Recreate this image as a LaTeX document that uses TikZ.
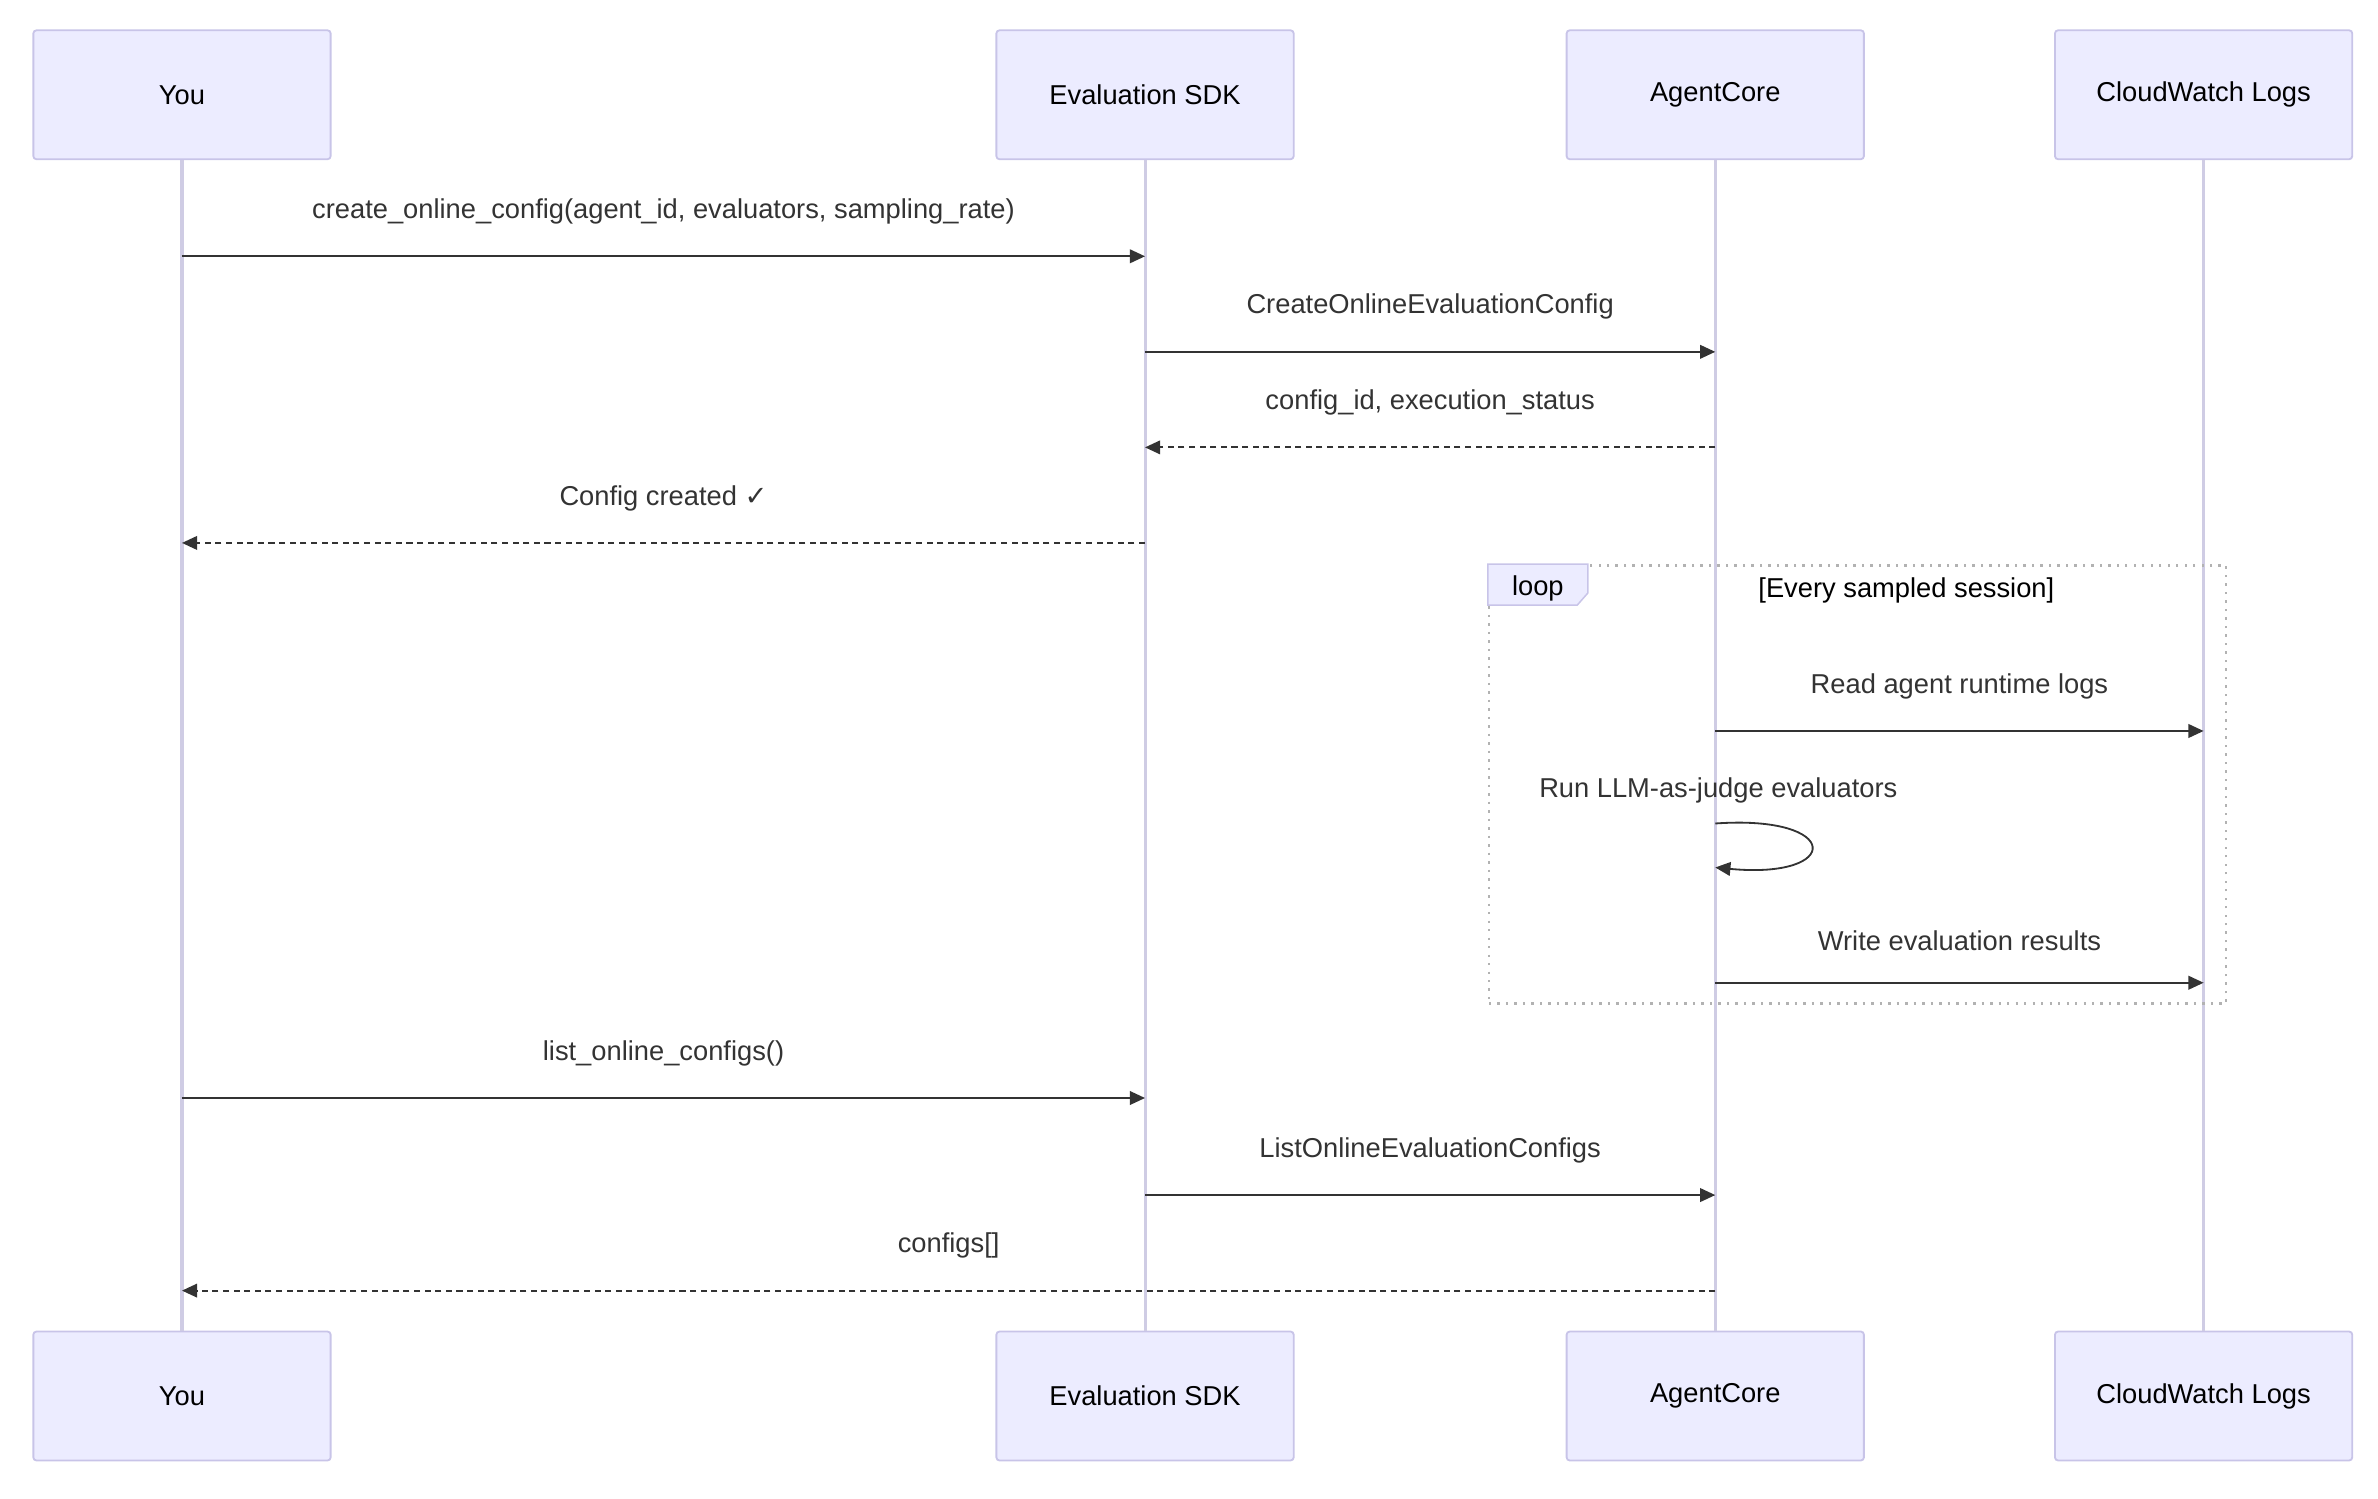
\documentclass[tikz,border=0pt]{standalone}
\usepackage{fontspec}
\setmainfont{Liberation Sans}
\newfontfamily\symfont{DejaVu Sans}
\usetikzlibrary{arrows.meta}
\definecolor{actfill}{HTML}{ECECFF}
\definecolor{actdraw}{HTML}{C8C4E8}
\definecolor{lifeline}{HTML}{CFCCE4}
\definecolor{msgcol}{HTML}{333333}
\begin{document}
\begin{tikzpicture}[x=0.5pt,y=-0.5pt,font=\fontsize{9}{11}\selectfont]
\tikzstyle{actor}=[rectangle, rounded corners=1pt, draw=actdraw, fill=actfill, line width=0.6pt, minimum width=98pt, minimum height=42.5pt]
\tikzstyle{life}=[draw=lifeline, line width=1pt]
\tikzstyle{msg}=[-{Triangle[length=5pt,width=4.5pt]}, draw=msgcol, line width=0.6pt]
\tikzstyle{reply}=[msg, dash pattern=on 2pt off 1.5pt]
\tikzstyle{lbl}=[text=msgcol]
\useasboundingbox (0,0) rectangle (1568,988);

  % actors
  \foreach \name/\x/\txt in {you/120/You, sdk/755/Evaluation SDK, core/1131/AgentCore, cw/1453/CloudWatch Logs}{
    \node[actor] (\name top) at (\x,62.5) {\txt};
    \node[actor] (\name bot) at (\x,920.5) {\txt};
    \path[life] (\name top.south) -- (\name bot.north);
  }

  % loop frame
  \node[draw=gray!60, dotted, line width=0.8pt, minimum width=243pt, minimum height=144.5pt, anchor=north west] (loop) at (981,372) {};
  \path[draw=actdraw, fill=actfill, line width=0.5pt] (981,372) -- (1047,372) -- (1047,391) -- (1040,399) -- (981,399) -- cycle;
  \node (looptag) at (1014,388) {loop};
  \node (loopcond) at (1257,389) {[Every sampled session]};

  % anchor points on lifelines
  \foreach \name/\x in {you/120, sdk/755, core/1131, cw/1453}{
    \foreach \y in {169,232,295,358,482,648,724,788,851}{
      \coordinate (\name\y) at (\x,\y);
    }
  }

  \draw[msg] (you169) -- node[lbl, above=7pt] {create\_online\_config(agent\_id, evaluators, sampling\_rate)} (sdk169);
  \draw[msg] (sdk232) -- node[lbl, above=7pt] {CreateOnlineEvaluationConfig} (core232);
  \draw[reply] (core295) -- node[lbl, above=7pt] {config\_id, execution\_status} (sdk295);
  \draw[reply] (sdk358) -- node[lbl, above=7pt] {Config created {\symfont ✓}} (you358);
  \draw[msg] (core482) -- node[lbl, above=7pt] {Read agent runtime logs} (cw482);
  \coordinate (selfa) at (1131,543);
  \coordinate (selfb) at (1131,572);
  \node[lbl] (selflbl) at (1133,521) {Run LLM-as-judge evaluators};
  \draw[msg] (selfa) .. controls (1215,537) and (1215,580) .. (selfb);
  \draw[msg] (core648) -- node[lbl, above=7pt] {Write evaluation results} (cw648);
  \draw[msg] (you724) -- node[lbl, above=7pt] {list\_online\_configs()} (sdk724);
  \draw[msg] (sdk788) -- node[lbl, above=7pt] {ListOnlineEvaluationConfigs} (core788);
  \draw[reply] (core851) -- node[lbl, above=7pt] {configs[]} (you851);
\end{tikzpicture}
\end{document}
